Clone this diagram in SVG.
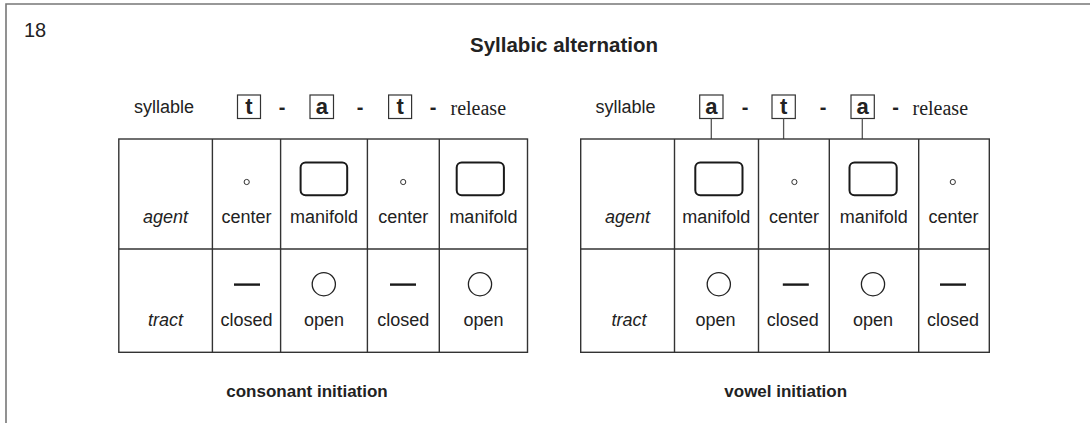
<svg xmlns="http://www.w3.org/2000/svg" width="1090" height="423" viewBox="0 0 1090 423">
  <style>
    text { font-family: "Liberation Sans", Arial, sans-serif; fill: #222; }
    .cell { font-size: 18px; text-anchor: middle; }
    .hdr { font-size: 18px; text-anchor: middle; font-style: italic; }
    .lbl { font-size: 18px; }
    .rel { font-family: "Liberation Serif", "Times New Roman", serif; font-size: 20px; }
    .let { font-size: 22px; font-weight: bold; text-anchor: middle; }
    .dash { font-size: 20px; font-weight: bold; text-anchor: middle; }
    .cap { font-size: 17px; font-weight: bold; text-anchor: middle; }
    .title { font-size: 20.5px; font-weight: bold; }
    .grid { fill: none; stroke: #333; stroke-width: 1.4; }
    .box { fill: #fff; stroke: #333; stroke-width: 1.2; }
    .man { fill: none; stroke: #1a1a1a; stroke-width: 2; }
    .dot { fill: none; stroke: #333; stroke-width: 1; }
    .open { fill: none; stroke: #222; stroke-width: 1.3; }
    .closed { stroke: #1a1a1a; stroke-width: 2.4; }
    .conn { stroke: #555; stroke-width: 1.3; }
  </style>

  <g id="frame">
    <polyline points="6,423 6,4 1090,4" fill="none" stroke="#777" stroke-width="1.6"/>
    <text x="24" y="36.5" font-size="20">18</text>
    <text class="title" x="470" y="51.5">Syllabic alternation</text>
  </g>

  <!-- Left: consonant initiation -->
  <g id="syllables-left">
    <text class="lbl" x="134" y="113">syllable</text>
    <rect class="box" x="237.5" y="95" width="23" height="23.5"/>
    <text class="let" x="249" y="114">t</text>
    <text class="dash" x="282" y="114">-</text>
    <rect class="box" x="310" y="95" width="23.5" height="23.5"/>
    <text class="let" x="321.8" y="114">a</text>
    <text class="dash" x="360" y="114">-</text>
    <rect class="box" x="388.6" y="95" width="23" height="23.5"/>
    <text class="let" x="400.1" y="114">t</text>
    <text class="dash" x="433" y="114">-</text>
    <text class="rel" x="450.5" y="114.5">release</text>
  </g>

  <g id="table-left">
    <rect class="grid" x="118.8" y="139" width="408.7" height="213.3"/>
    <line class="grid" x1="118.8" y1="249" x2="527.5" y2="249"/>
    <line class="grid" x1="212.4" y1="139" x2="212.4" y2="352.3"/>
    <line class="grid" x1="280.6" y1="139" x2="280.6" y2="352.3"/>
    <line class="grid" x1="367.4" y1="139" x2="367.4" y2="352.3"/>
    <line class="grid" x1="439.3" y1="139" x2="439.3" y2="352.3"/>

    <text class="hdr" x="165.6" y="223">agent</text>
    <circle class="dot" cx="246.7" cy="182" r="2.6"/>
    <text class="cell" x="246.5" y="223">center</text>
    <rect class="man" x="300.6" y="162.6" width="46.6" height="32.6" rx="5"/>
    <text class="cell" x="324" y="223">manifold</text>
    <circle class="dot" cx="403.2" cy="182" r="2.6"/>
    <text class="cell" x="403.3" y="223">center</text>
    <rect class="man" x="456.7" y="162.6" width="47.2" height="32.6" rx="5"/>
    <text class="cell" x="483.4" y="223">manifold</text>

    <text class="hdr" x="165.6" y="326">tract</text>
    <line class="closed" x1="234" y1="284.6" x2="260" y2="284.6"/>
    <text class="cell" x="246.5" y="326">closed</text>
    <circle class="open" cx="323.8" cy="284.2" r="11.6"/>
    <text class="cell" x="324" y="326">open</text>
    <line class="closed" x1="390" y1="284.6" x2="416" y2="284.6"/>
    <text class="cell" x="403.3" y="326">closed</text>
    <circle class="open" cx="480" cy="284.2" r="11.6"/>
    <text class="cell" x="483.4" y="326">open</text>

    <text class="cap" x="307" y="396.7">consonant initiation</text>
  </g>

  <!-- Right: vowel initiation -->
  <g id="syllables-right">
    <text class="lbl" x="595.5" y="113">syllable</text>
    <rect class="box" x="699.7" y="95" width="23.3" height="23.5"/>
    <text class="let" x="711.3" y="114">a</text>
    <text class="dash" x="745.2" y="114">-</text>
    <rect class="box" x="772" y="95" width="23.3" height="23.5"/>
    <text class="let" x="783.6" y="114">t</text>
    <text class="dash" x="823" y="114">-</text>
    <rect class="box" x="851" y="95" width="23.3" height="23.5"/>
    <text class="let" x="862.6" y="114">a</text>
    <text class="dash" x="895.7" y="114">-</text>
    <text class="rel" x="912.5" y="114.5">release</text>
  </g>

  <g id="connectors">
    <line class="conn" x1="711.3" y1="118.5" x2="711.3" y2="139"/>
    <line class="conn" x1="783.6" y1="118.5" x2="783.6" y2="139"/>
    <line class="conn" x1="862.3" y1="118.5" x2="862.3" y2="139"/>
  </g>

  <g id="table-right">
    <rect class="grid" x="580.7" y="139" width="408.6" height="213.3"/>
    <line class="grid" x1="580.7" y1="249" x2="989.3" y2="249"/>
    <line class="grid" x1="674.5" y1="139" x2="674.5" y2="352.3"/>
    <line class="grid" x1="758.5" y1="139" x2="758.5" y2="352.3"/>
    <line class="grid" x1="829.3" y1="139" x2="829.3" y2="352.3"/>
    <line class="grid" x1="918.7" y1="139" x2="918.7" y2="352.3"/>

    <text class="hdr" x="627.6" y="223">agent</text>
    <rect class="man" x="695.3" y="162.6" width="47.2" height="32.6" rx="5"/>
    <text class="cell" x="716.3" y="223">manifold</text>
    <circle class="dot" cx="794.4" cy="182" r="2.6"/>
    <text class="cell" x="794" y="223">center</text>
    <rect class="man" x="849.5" y="162.6" width="47.2" height="32.6" rx="5"/>
    <text class="cell" x="873.8" y="223">manifold</text>
    <circle class="dot" cx="952.8" cy="182" r="2.6"/>
    <text class="cell" x="953.4" y="223">center</text>

    <text class="hdr" x="629" y="326">tract</text>
    <circle class="open" cx="718.8" cy="284.2" r="11.6"/>
    <text class="cell" x="715.5" y="326">open</text>
    <line class="closed" x1="782.8" y1="284.6" x2="808.8" y2="284.6"/>
    <text class="cell" x="792.7" y="326">closed</text>
    <circle class="open" cx="873" cy="284.2" r="11.6"/>
    <text class="cell" x="873" y="326">open</text>
    <line class="closed" x1="940" y1="284.6" x2="966" y2="284.6"/>
    <text class="cell" x="953" y="326">closed</text>

    <text class="cap" x="785.7" y="396.7">vowel initiation</text>
  </g>
</svg>
